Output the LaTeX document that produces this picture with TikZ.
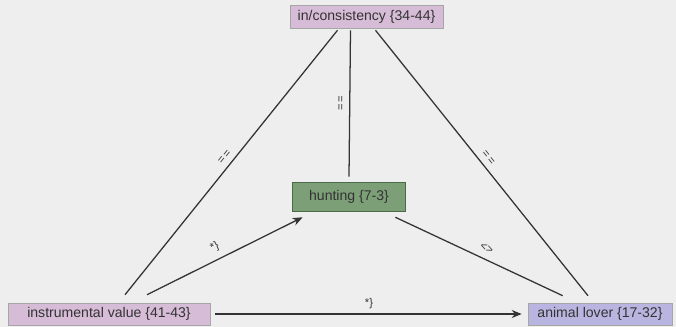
\documentclass[tikz,border=0pt]{standalone}
\usepackage{fontspec}
\setmainfont{Liberation Sans}
\usetikzlibrary{arrows.meta}
\definecolor{canvas}{HTML}{EEEEEE}
\definecolor{mauve}{HTML}{D6BCD6}
\definecolor{lilac}{HTML}{B8B6E0}
\definecolor{moss}{HTML}{7D9F78}
\definecolor{mossdark}{HTML}{4A6A48}
\definecolor{ink}{HTML}{333333}

\begin{document}
\begin{tikzpicture}[x=0.025cm,y=-0.025cm,
    concept/.style={draw=gray!70,text=ink,font=\normalsize,inner sep=0pt,minimum height=0.55cm},
    link/.style={draw=ink,line width=0.9pt},
    tag/.style={font=\footnotesize,text=ink,sloped,inner sep=1.5pt}]
    \fill[canvas] (0,0) rectangle (676,327);
    \node[concept,fill=mauve,minimum width=3.825cm,minimum height=0.575cm] (cons) at (366.5,16.5) {in/consistency \{34-44\}};
    \node[concept,fill=moss,draw=mossdark,minimum width=2.825cm,minimum height=0.725cm] (hunt) at (349,196.5) {hunting \{7-3\}};
    \node[concept,fill=mauve,minimum width=5.05cm] (iv) at (109,314) {instrumental value \{41-43\}};
    \node[concept,fill=lilac,minimum width=3.6cm] (al) at (600,314) {animal lover \{17-32\}};
    % equality links
    \draw[link] ([xshift=0.4cm,yshift=0.2cm]iv.north) -- node[tag,above=2pt] {=\,=} ([xshift=-0.725cm,yshift=-0.05cm]cons.south);
    \draw[link] ([yshift=0.125cm]hunt.north) -- node[tag,above=2pt] {=\,=} ([xshift=-0.4cm,yshift=-0.05cm]cons.south);
    \draw[link] ([xshift=0.225cm,yshift=-0.05cm]cons.south) -- node[tag,above=2pt] {=\,=} ([xshift=-0.3cm,yshift=0.175cm]al.north);
    % influence links
    \draw[link,-{Stealth[length=0.25cm,width=0.2cm]}] ([xshift=0.95cm,yshift=0.2cm]iv.north) -- node[tag,above=3pt,pos=0.47] {*\}} ([xshift=0.26cm,yshift=-0.15cm]hunt.south west);
    \draw[link] ([xshift=-0.26cm,yshift=-0.15cm]hunt.south east) -- node[tag,above=3pt,pos=0.52] {<>} ([xshift=0.875cm,yshift=0.175cm]al.north west);
    \draw[link,-{Stealth[length=0.25cm,width=0.2cm]},shorten <=0.125cm,shorten >=0.15cm] (iv.east) -- node[tag,above=2pt] {*\}} (al.west);
\end{tikzpicture}
\end{document}
